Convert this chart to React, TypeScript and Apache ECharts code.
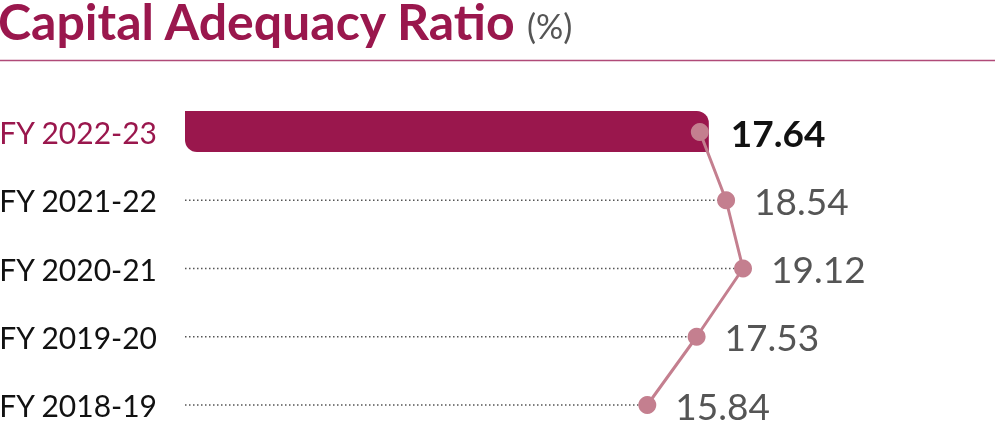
import React, { useEffect, useRef } from "react";
import * as echarts from "echarts";

const categories = ["FY 2022-23", "FY 2021-22", "FY 2020-21", "FY 2019-20", "FY 2018-19"];
const ratioValues = [17.64, 18.54, 19.12, 17.53, 15.84];
const titleText = "Capital Adequacy Ratio";
const unitText = "(%)";

const CRIMSON = "#9a174d";
const DOT = "#c47f8f";
const FONT = "Lato, 'Open Sans', sans-serif";

export default function App() {
  const ref = useRef<HTMLDivElement>(null);
  useEffect(() => {
    document.body.style.margin = "0";
    const chart = echarts.init(ref.current!, undefined, { renderer: "svg" });
    const option: any = {
      animation: false,
      textStyle: { fontFamily: FONT },
      graphic: [
        {
          type: "text",
          x: -2,
          y: 21,
          style: {
            text: titleText,
            font: `bold 50px ${FONT}`,
            fill: CRIMSON,
            verticalAlign: "middle",
            align: "left",
          },
        },
        {
          type: "text",
          x: 527,
          y: 25,
          style: {
            text: unitText,
            font: `normal 34px ${FONT}`,
            fill: "#555555",
            verticalAlign: "middle",
            align: "left",
          },
        },
        {
          type: "line",
          shape: { x1: 0, y1: 60.5, x2: 995, y2: 60.5 },
          style: { stroke: "#b04a78", lineWidth: 1.5 },
        },
      ],
      grid: { left: 185, right: 22, top: 132, bottom: 16, containLabel: false, outerBoundsMode: "none" },
      xAxis: {
        type: "value",
        min: 0,
        max: 27,
        show: false,
      },
      yAxis: {
        type: "category",
        data: categories,
        inverse: true,
        boundaryGap: false,
        axisLine: { show: false },
        axisTick: { show: false },
        splitLine: { show: false },
        axisLabel: {
          margin: 28,
          fontFamily: FONT,
          formatter: (v: string, i: number) => (i === 0 ? `{hl|${v}}` : `{n|${v}}`),
          rich: {
            hl: { fontFamily: FONT, fontSize: 30, color: CRIMSON, lineHeight: 30 },
            n: { fontFamily: FONT, fontSize: 30, color: "#111111", lineHeight: 30 },
          },
        },
      },
      series: [
        {
          type: "custom",
          data: ratioValues.map((v, i) => [v, i]),
          encode: { x: 0, y: 1 },
          z: 1,
          renderItem: (params: any, api: any) => {
            const val = api.value(0);
            const idx = api.value(1);
            const start = api.coord([0, idx]);
            const end = api.coord([val, idx]);
            if (idx === 0) {
              return {
                type: "rect",
                shape: { x: start[0], y: start[1] - 21, width: end[0] - start[0] + 9, height: 41, r: [0, 12, 0, 12] },
                style: { fill: CRIMSON },
              };
            }
            return {
              type: "line",
              shape: { x1: start[0], y1: start[1], x2: end[0], y2: end[1] },
              style: { stroke: "#555555", lineWidth: 1.5, lineDash: [1.5, 2.5] },
            };
          },
        },
        {
          type: "line",
          data: ratioValues.map((v, i) =>
            i === 0
              ? {
                  value: v,
                  label: { color: "#111111", fontWeight: "bold", distance: 22 },
                }
              : v
          ),
          z: 5,
          symbol: "circle",
          symbolSize: 18,
          itemStyle: { color: DOT },
          lineStyle: { color: DOT, width: 3 },
          label: {
            show: true,
            position: "right",
            distance: 19,
            fontFamily: FONT,
            fontSize: 37,
            lineHeight: 36,
            color: "#555555",
            formatter: (p: any) => p.value.toFixed(2),
          },
        },
      ],
    };
    chart.setOption(option);
    return () => {
      chart.dispose();
    };
  }, []);
  return <div ref={ref} style={{ position: "fixed", left: 0, top: 0, width: 995, height: 421 }} />;
}
